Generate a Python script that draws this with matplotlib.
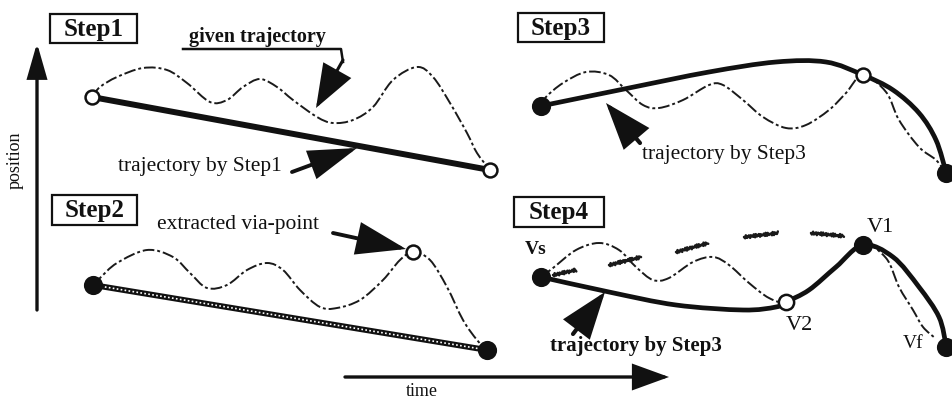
import numpy as np
import matplotlib
matplotlib.use("Agg")
import matplotlib.pyplot as plt
from matplotlib.path import Path
from matplotlib.patches import PathPatch, Rectangle, FancyArrowPatch

# ---------------- data (pixel coordinates of the schematic, y downward) -------------
# Step1
given1 = [(92, 97), (100, 87), (117, 77), (143, 68), (167, 70), (187, 83), (210, 102), (227, 100),
          (243, 87), (260, 79), (277, 87), (293, 100), (317, 117), (333, 123), (353, 120),
          (373, 107), (393, 80), (417, 67), (433, 77), (450, 103), (467, 133), (477, 153), (490, 170)]
step1_line = [(92, 97), (490, 170)]
step1_start = (92, 97)
step1_end = (490, 170)

# Step2
given2 = [(93, 285), (100, 278), (117, 263), (147, 250), (173, 257), (190, 273), (207, 288), (227, 285),
          (247, 270), (267, 263), (283, 270), (300, 290), (320, 307), (337, 308), (360, 300),
          (383, 280), (400, 260), (413, 252), (430, 260), (447, 287), (463, 320), (477, 340), (487, 350)]
step2_line = [(93, 285), (487, 350)]
step2_start = (93, 285)
step2_via = (413, 252)
step2_end = (487, 350)

# Step3
given3 = [(541, 106), (546, 97), (563, 83), (586, 72), (609, 75), (626, 90), (643, 105), (659, 108),
          (683, 100), (709, 85), (723, 85), (743, 100), (763, 117), (786, 128), (806, 125),
          (829, 110), (846, 93), (863, 75), (886, 92), (899, 120), (919, 147), (936, 160), (946, 173)]
step3_curve = [(541, 106), (629, 88), (709, 72), (776, 62), (826, 62), (863, 75), (893, 90),
               (919, 113), (936, 140), (946, 172)]
step3_start = (541, 106)
step3_via = (863, 75)
step3_end = (946, 173)

# Step4
given4 = [(541, 277), (553, 268), (576, 250), (599, 243), (619, 250), (636, 267), (653, 280),
          (669, 278), (693, 262), (713, 257), (729, 265), (749, 283), (769, 298), (786, 302),
          (809, 290), (836, 267), (863, 245), (886, 258), (899, 287), (913, 310), (923, 327),
          (935, 338)]
step4_curve = [(541, 277), (609, 292), (676, 305), (743, 310), (776, 307), (786, 302), (809, 290),
               (836, 267), (863, 245), (893, 257), (919, 287), (939, 317), (946, 345)]
step4_Vs = (541, 277)
step4_V2 = (786, 302)
step4_V1 = (863, 245)
step4_Vf = (946, 347)
wiggles = [((553, 275), (576, 270)), ((609, 265), (641, 257)), ((676, 252), (708, 243)),
           ((744, 237), (778, 233)), ((811, 233), (844, 236))]

step_labels = ["Step1", "Step2", "Step3", "Step4"]
step_boxes = [(50, 14, 87, 29), (52, 195, 85, 30), (518, 13, 86, 29), (514, 197, 90, 30)]

# ---------------- drawing ----------------
W, H = 952, 400
fig = plt.figure(figsize=(W / 100, H / 100), dpi=100)
ax = fig.add_axes([0, 0, 1, 1])
ax.set_xlim(0, W)
ax.set_ylim(H, 0)
ax.axis("off")

SERIF = ["Liberation Serif", "DejaVu Serif"]
INK = "#111111"


def smooth_path(pts):
    P = np.asarray(pts, float)
    E = np.vstack([P[0], P, P[-1]])
    verts = [P[0]]
    codes = [Path.MOVETO]
    for i in range(1, len(E) - 2):
        p0, p1, p2, p3 = E[i - 1], E[i], E[i + 1], E[i + 2]
        verts += [p1 + (p2 - p0) / 6, p2 - (p3 - p1) / 6, p2]
        codes += [Path.CURVE4] * 3
    return Path(verts, codes)


def draw_given(pts):
    ax.add_patch(PathPatch(smooth_path(pts), fill=False, lw=1.4, ec="#1a1a1a",
                           ls=(0, (6, 1.5, 1.5, 1.5)), zorder=2))


def draw_thick(pts, lw=3.6):
    ax.add_patch(PathPatch(smooth_path(pts), fill=False, lw=lw, ec=INK,
                           capstyle="round", joinstyle="round", zorder=3))


def dot(p, filled, ms=11):
    ax.plot([p[0]], [p[1]], marker="o", ms=ms, mfc=INK if filled else "white",
            mec=INK, mew=1.8, zorder=5, clip_on=False)


def arrow(p0, p1, hl=20, hw=8, lw=2.6):
    ax.add_patch(FancyArrowPatch(p0, p1, arrowstyle=f"-|>,head_length={hl},head_width={hw}",
                                 mutation_scale=1, lw=lw, color=INK, shrinkA=0, shrinkB=0,
                                 joinstyle="miter", zorder=6))


# step boxes
for lab, (x, y, w, h) in zip(step_labels, step_boxes):
    ax.add_patch(Rectangle((x, y), w, h, fill=False, lw=1.6, ec=INK, zorder=4))
    ax.text(x + w / 2, y + h / 2 + 1, lab, ha="center", va="center", fontsize=18,
            fontweight="bold", family=SERIF, color=INK)

# axes arrows
arrow((37, 310), (37, 43), hl=21, hw=6, lw=2.4)
arrow((345, 377), (669, 377), hl=22, hw=8, lw=2.4)
ax.text(15, 160, "position", rotation=90, ha="center", va="center", fontsize=13,
        family=SERIF, color=INK)
ax.text(422, 392, "time", ha="center", va="center", fontsize=13, family=SERIF, color=INK)

# Step1
draw_given(given1)
ax.plot(*zip(*step1_line), color=INK, lw=4.3, solid_capstyle="round", zorder=3)
dot(step1_start, False, 10)
dot(step1_end, False, 10)
ax.text(257, 37, "given trajectory", ha="center", va="center", fontsize=14.5, fontweight="bold",
        family=SERIF, color=INK)
ax.plot([183, 341, 343], [49, 49, 62], color=INK, lw=1.8, zorder=6)
arrow((343, 60), (316, 108), hl=27, hw=10, lw=2.2)
ax.text(200, 167, "trajectory by Step1", ha="center", va="center", fontsize=15.5,
        family=SERIF, color=INK)
arrow((292, 172), (357, 148), hl=29, hw=9, lw=2.8)

# Step2
draw_given(given2)
ax.plot(*zip(*step2_line), color=INK, lw=4.2, zorder=3)
ax.plot(*zip(*step2_line), color="white", lw=1.2, ls=(0, (1.0, 1.4)), zorder=3)
dot(step2_start, True, 12)
dot(step2_via, False, 10)
dot(step2_end, True, 12)
ax.text(238, 225, "extracted via-point", ha="center", va="center", fontsize=15.5,
        family=SERIF, color=INK)
arrow((333, 233), (406, 249), hl=30, hw=10, lw=2.8)

# Step3
draw_given(given3)
draw_thick(step3_curve, 3.4)
dot(step3_start, True, 12)
dot(step3_via, False, 10)
dot(step3_end, True, 12)
ax.text(724, 155, "trajectory by Step3", ha="center", va="center", fontsize=15.5,
        family=SERIF, color=INK)
arrow((640, 143), (606, 103), hl=28, hw=10, lw=3.0)

# Step4
draw_given(given4)
for (a, b) in wiggles:
    ln, = ax.plot([a[0], b[0]], [a[1], b[1]], color="#1a1a1a", lw=1.8, zorder=2,
                  solid_capstyle="round")
    ln.set_sketch_params(1.6, 2.5, 1.2)
draw_thick(step4_curve, 3.4)
dot(step4_Vs, True, 12)
dot(step4_V2, False, 11)
dot(step4_V1, True, 12)
dot(step4_Vf, True, 12)
ax.text(536, 250, "Vs", ha="center", va="center", fontsize=14, fontweight="bold",
        family=SERIF, color=INK)
ax.text(880, 227, "V1", ha="center", va="center", fontsize=16, family=SERIF, color=INK)
ax.text(799, 325, "V2", ha="center", va="center", fontsize=16, family=SERIF, color=INK)
ax.text(913, 343, "Vf", ha="center", va="center", fontsize=14, family=SERIF, color=INK)
ax.text(636, 346, "trajectory by Step3", ha="center", va="center", fontsize=15,
        fontweight="bold", family=SERIF, color=INK)
arrow((573, 334), (605, 292), hl=28, hw=10, lw=3.0)

fig.savefig("out.png", dpi=100, facecolor="white")
